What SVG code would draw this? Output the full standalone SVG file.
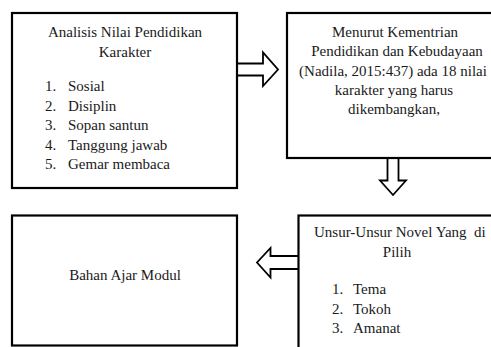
<svg xmlns="http://www.w3.org/2000/svg" width="491" height="347" viewBox="0 0 491 347">
<style>
.box{fill:#fff;stroke:#000;stroke-width:2.2}
.arr{fill:#fff;stroke:#000;stroke-width:1.8;stroke-linejoin:miter}
.t text{font-size:15px;fill:#1a1a1a}
.c{text-anchor:middle}
</style>
<rect width="491" height="347" fill="#fff"/>
<g id="connectors">
<path class="arr" d="M238,63.5 H263 V52.5 L278,69.5 L263,86 V75.5 H238"/>
<path class="arr" d="M387.5,159 V180.5 H380 L393,195 L406,180.5 H398.5 V159"/>
<path class="arr" d="M298,256 H270.5 V248 L257,262.5 L270.5,277.5 V269 H298"/>
</g>
<g class="t" font-family="Liberation Serif, Times New Roman, serif">
<g id="node-analisis">
<rect class="box" x="12" y="13" width="225" height="175"/>
<text class="c" x="125" y="37">Analisis Nilai Pendidikan</text>
<text class="c" x="125" y="56.5">Karakter</text>
<text x="45" y="91">1.</text><text x="68" y="91">Sosial</text>
<text x="45" y="110.5">2.</text><text x="68" y="110.5">Disiplin</text>
<text x="45" y="130">3.</text><text x="68" y="130">Sopan santun</text>
<text x="45" y="149.5">4.</text><text x="68" y="149.5">Tanggung jawab</text>
<text x="45" y="169">5.</text><text x="68" y="169">Gemar membaca</text>
</g>
<g id="node-kementrian">
<rect class="box" x="287" y="13" width="220" height="145"/>
<text class="c" x="395" y="36.5">Menurut Kementrian</text>
<text class="c" x="397" y="56">Pendidikan dan Kebudayaan</text>
<text class="c" x="393" y="75.5">(Nadila, 2015:437) ada 18 nilai</text>
<text class="c" x="394" y="95">karakter yang harus</text>
<text class="c" x="394" y="114">dikembangkan,</text>
</g>
<g id="node-unsur">
<rect class="box" x="298.5" y="215.5" width="210" height="140"/>
<text x="314" y="237" xml:space="preserve">Unsur-Unsur Novel Yang  di</text>
<text class="c" x="397" y="256.5">Pilih</text>
<text x="332" y="294">1.</text><text x="353" y="294">Tema</text>
<text x="332" y="313.5">2.</text><text x="353" y="313.5">Tokoh</text>
<text x="332" y="333">3.</text><text x="353" y="333">Amanat</text>
</g>
<g id="node-bahan">
<rect class="box" x="12" y="215.5" width="225" height="130"/>
<text class="c" x="125" y="280">Bahan Ajar Modul</text>
</g>
</g>
</svg>
